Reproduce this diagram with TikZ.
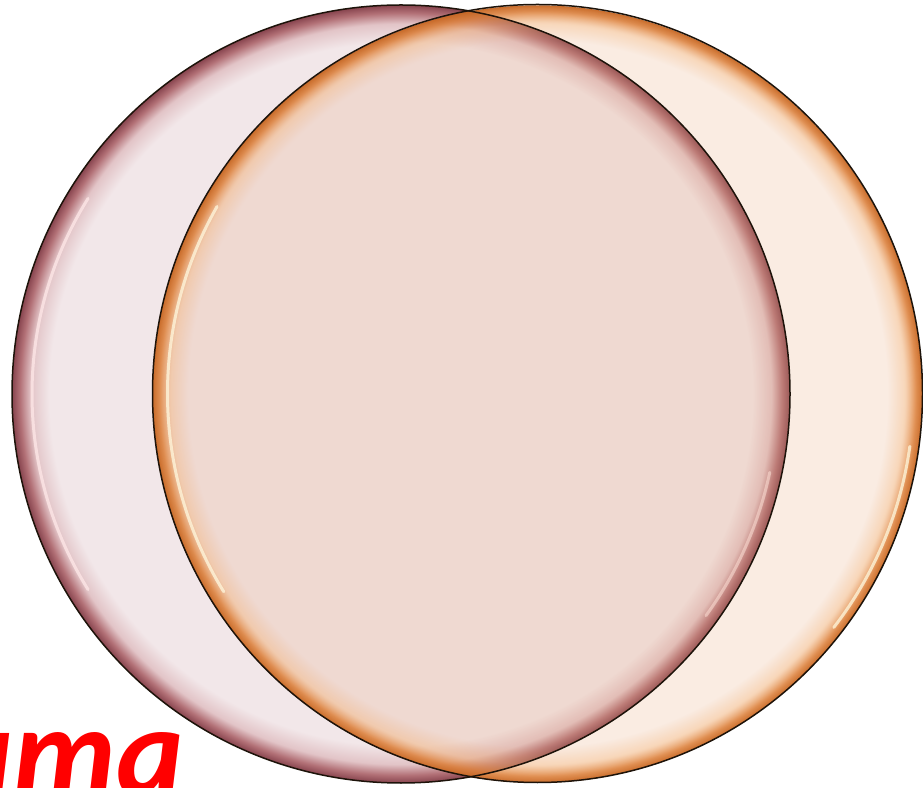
\documentclass[tikz,border=0pt]{standalone}
\usepackage{fontspec}
\newfontfamily\carl{Carlito}
\usetikzlibrary{fadings}
% colours
\definecolor{lin}{RGB}{242,231,233}
\definecolor{lmid}{RGB}{226,196,199}
\definecolor{ldark}{RGB}{178,112,118}
\definecolor{ledge}{RGB}{135,68,78}
\definecolor{rin}{RGB}{230,165,120}
\definecolor{rmid}{RGB}{240,172,112}
\definecolor{rdark}{RGB}{222,130,60}
\definecolor{redge}{RGB}{200,105,38}
\definecolor{lhl}{RGB}{255,232,232}
\definecolor{rhl}{RGB}{255,248,222}
\pgfdeclareradialshading{leftglass}{\pgfpointorigin}{color(0bp)=(lin); color(22.6bp)=(lin); color(23.8bp)=(lmid); color(24.5bp)=(ldark); color(25bp)=(ledge); color(50bp)=(ledge)}
\pgfdeclareradialshading{rightglass}{\pgfpointorigin}{color(0bp)=(rin); color(22.6bp)=(rin); color(23.8bp)=(rmid); color(24.5bp)=(rdark); color(25bp)=(redge); color(50bp)=(redge)}
\pgfdeclareradialshading{rimfadesh}{\pgfpointorigin}{color(0bp)=(black!79); color(22.6bp)=(black!79); color(23.8bp)=(black!50); color(24.5bp)=(black!12); color(25bp)=(black!0); color(50bp)=(black!0)}
\pgfdeclarefading{rimfade}{\pgfuseshading{rimfadesh}}
\tikzset{
  rimline/.style={draw=black!85!brown, line width=1.5pt},
  hilite/.style={line width=3pt, line cap=round, draw opacity=0.75},
  wordstyle/.style={inner sep=0pt, text=red, font=\carl\bfseries\itshape\fontsize{128}{128}\selectfont}
}
\begin{document}
\begin{tikzpicture}[x=1pt,y=1pt]
\useasboundingbox (0,0) rectangle (923,787);
\clip (0,0) rectangle (923,787);
\coordinate (lc) at (401,393);
\coordinate (rc) at (537.5,393.5);
% left disc
\shade[shading=leftglass] (lc) ellipse [x radius=389, y radius=389];
\draw[hilite, draw=lhl] (lc) ++ (148:369) arc[start angle=148, end angle=212, radius=369];
\draw[hilite, draw=lhl, draw opacity=0.6] (lc) ++ (-12:377) arc[start angle=-12, end angle=-36, radius=377];
% right disc (translucent centre)
\shade[shading=rightglass, path fading=rimfade] (rc) ellipse [x radius=385, y radius=389];
\draw[hilite, draw=rhl] (rc) ++ (150:370 and 374) arc[start angle=150, end angle=212, x radius=370, y radius=374];
\draw[hilite, draw=rhl] (rc) ++ (-8:376 and 380) arc[start angle=-8, end angle=-38, x radius=376, y radius=380];
% outlines
\draw[rimline] (lc) ellipse [x radius=389, y radius=389];
\draw[rimline] (rc) ellipse [x radius=385, y radius=389];
% text
\node[wordstyle, anchor=base east] (word) at (184,-8) {uma};
\end{tikzpicture}
\end{document}
